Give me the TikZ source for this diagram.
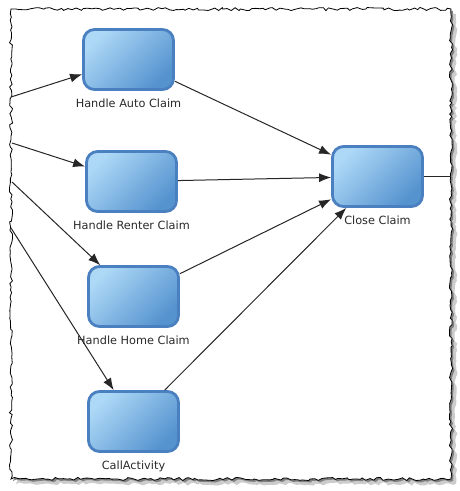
\documentclass[tikz,border=0pt]{standalone}
\usepackage{xcolor}
\usepackage{fontspec}
\setmainfont{DejaVu Sans}
\usepackage{tikz}
\usetikzlibrary{arrows.meta,positioning,decorations.pathmorphing}

\definecolor{boxlight}{HTML}{ADD8F6}
\definecolor{boxdark}{HTML}{5593CF}
\definecolor{boxedge}{HTML}{4A7FC0}
\definecolor{txtgray}{HTML}{2A2A2A}

\begin{document}
\begin{tikzpicture}[
  x=1pt, y=-1pt,
  font=\fontsize{11.3}{13}\selectfont,
  box/.style={draw=boxedge, line width=2.8pt, rounded corners=11pt,
    top color=boxlight, bottom color=boxdark, shading angle=45,
    minimum width=90pt, minimum height=60pt},
  lbl/.style={text=txtgray, inner sep=1pt, label distance=6.5pt},
  arr/.style={-{Latex[length=12pt,width=9pt]}, line width=1pt, draw=black!85},
  torn/.style={decorate, decoration={random steps, segment length=3.5pt, amplitude=1.6pt}}
]
\useasboundingbox (0,0) rectangle (460,491);

% torn paper frame with shadow
\pgfmathsetseed{11}
\fill[black!20, torn] (16,14) -- (456,14) -- (456,484) -- (16,484) -- cycle;
\pgfmathsetseed{11}
\fill[black!50, torn] (13,11) -- (453,11) -- (453,481) -- (13,481) -- cycle;
\pgfmathsetseed{11}
\filldraw[fill=white, draw=black, line width=0.8pt, torn] (11,9) -- (451,9) -- (451,479) -- (11,479) -- cycle;

% tasks
\node[box, label={[lbl]below:Handle Auto Claim}] (auto) at (128.5,59.5) {};
\node[box, label={[lbl]below:Handle Renter Claim}] (renter) at (131.5,181.5) {};
\node[box, label={[lbl]below:Handle Home Claim}] (home) at (133.5,296.5) {};
\node[box, label={[lbl]below:CallActivity}] (call) at (133.5,421.5) {};
\node[box, label={[lbl]below:Close Claim}] (close) at (377.5,176.5) {};

% incoming from the left edge
\coordinate (ina) at (11,97);
\coordinate (inb) at (12,143);
\coordinate (inc) at (12,182);
\coordinate (ind) at (11,228);
\coordinate (outr) at (451,176.5);

\draw[arr] (ina) -- (auto);
\draw[arr] (inb) -- (renter);
\draw[arr] (inc) -- (home);
\draw[arr] (ind) -- (call);
\draw[arr] (auto) -- (close);
\draw[arr] (renter) -- (close);
\draw[arr] (home) -- (close);
\draw[arr] (call) -- (close);
\draw[line width=1pt, draw=black!85] (close) -- (outr);
\end{tikzpicture}
\end{document}
